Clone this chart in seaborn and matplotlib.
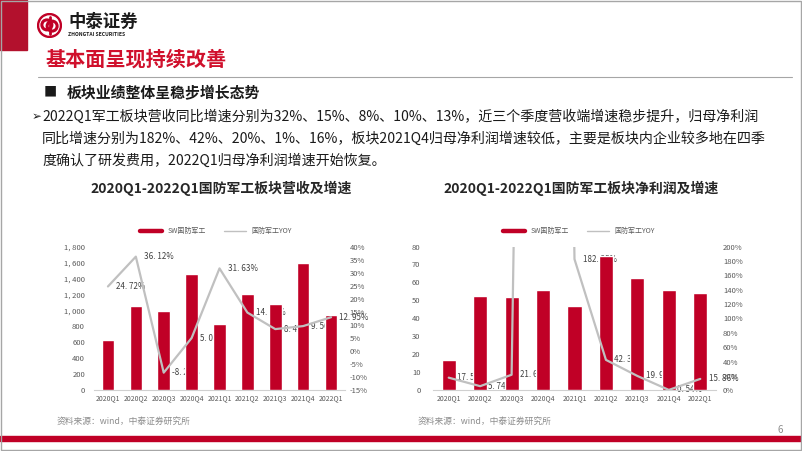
import matplotlib
matplotlib.use("Agg")
import matplotlib.pyplot as plt
import seaborn as sns
from matplotlib.lines import Line2D
from matplotlib.patches import Rectangle, Circle
from matplotlib.ticker import FuncFormatter, MultipleLocator

# 数据
quarters = ["2020Q1", "2020Q2", "2020Q3", "2020Q4", "2021Q1",
            "2021Q2", "2021Q3", "2021Q4", "2022Q1"]
revenue = [630, 1050, 995, 1458, 830, 1205, 1080, 1597, 938]
revenue_yoy = [24.72, 36.12, -8.25, 5.00, 31.63, 14.73, 8.41, 9.56, 12.95]
profit = [16.6, 52.6, 52.1, 55.6, 46.9, 74.8, 62.6, 56.0, 54.3]
profit_yoy = [17.58, 5.74, 21.63, 2800.0, 182.35, 42.31, 19.93, 0.54, 15.86]

legend_labels = ["SW国防军工", "国防军工YOY"]
title_rev = "2020Q1-2022Q1国防军工板块营收及增速"
title_np = "2020Q1-2022Q1国防军工板块净利润及增速"
para_lines = [
    "2022Q1军工板块营收同比增速分别为32%、15%、8%、10%、13%，近三个季度营收端增速稳步提升，归母净利润",
    "同比增速分别为182%、42%、20%、1%、16%，板块2021Q4归母净利润增速较低，主要是板块内企业较多地在四季",
    "度确认了研发费用，2022Q1归母净利润增速开始恢复。",
]

RED = "#c00026"
LINE_GRAY = "#c0c0c0"
TXT = "#595959"

sns.set_theme(style="white")
plt.rcParams['font.family'] = ['Noto Sans CJK SC', 'DejaVu Sans']
plt.rcParams['axes.unicode_minus'] = False

W, H = 802, 451
fig = plt.figure(figsize=(W / 100, H / 100), dpi=100)


def fx(x):
    return x / W


def fy(y):
    return 1 - y / H


def box(l, t, r, b):
    return [l / W, 1 - b / H, (r - l) / W, (b - t) / H]


# 页面装饰
fig.patches.append(Rectangle((0, fy(50)), fx(27), 50 / H, transform=fig.transFigure,
                             color="#b3112d", zorder=0))
fig.patches.append(Rectangle((0, fy(441)), 1, 5 / H, transform=fig.transFigure,
                             color=RED, zorder=0))
fig.patches.append(Rectangle((0.001, 0.002), 0.998, 0.996, transform=fig.transFigure,
                             fill=False, ec="#a6a6a6", lw=1))
fig.lines.append(Line2D([fx(38), fx(792)], [fy(77), fy(77)], transform=fig.transFigure,
                        color="#a6a6a6", lw=0.8))

# logo
lax = fig.add_axes(box(37, 13, 62, 38))
lax.set_xlim(-1.05, 1.05)
lax.set_ylim(-1.05, 1.05)
lax.set_aspect("equal")
lax.axis("off")
lax.add_patch(Circle((0, 0), 1.0, color=RED))
lax.add_patch(Circle((0, 0), 0.8, color="white"))
lax.add_patch(Circle((-0.22, 0.05), 0.42, fill=False, ec=RED, lw=2.2))
lax.add_patch(Circle((0.22, -0.05), 0.42, fill=False, ec=RED, lw=2.2))
lax.plot([0, 0], [-0.7, 0.7], color=RED, lw=2)

fig.text(fx(68), fy(22), "中泰证券", fontsize=12.5, fontweight="bold", color="#1a1a1a", va="center")
fig.text(fx(68), fy(34), "ZHONGTAI SECURITIES", fontsize=3.6, fontweight="bold", color="#1a1a1a", va="center")
fig.text(fx(46), fy(59), "基本面呈现持续改善", fontsize=14.5, fontweight="bold", color="#d0102c", va="center")

fig.text(fx(44), fy(93), "■", fontsize=9.5, color="#1a1a1a", va="center")
fig.text(fx(67), fy(93), "板块业绩整体呈稳步增长态势", fontsize=10.7, fontweight="bold", color="#1a1a1a", va="center")

fig.text(fx(32), fy(117), "➢", fontsize=8.5, color="#1a1a1a", va="center", family=["DejaVu Sans"])
for k, line in enumerate(para_lines):
    fig.text(fx(42), fy(117 + 21.8 * k), line, fontsize=10.1, color="#1a1a1a", va="center")

fig.text(fx(57), fy(421), "资料来源：wind，中泰证券研究所", fontsize=6.3, color="#8c8c8c", va="center")
fig.text(fx(418), fy(421), "资料来源：wind，中泰证券研究所", fontsize=6.3, color="#8c8c8c", va="center")
fig.text(fx(778), fy(430), "6", fontsize=7, color="#8c8c8c", va="center")


def combo(left, right, vals, yoy, ymax, ystep, y2lim, y2step, lpad, rpad, title, title_x, legend_x):
    ax = fig.add_axes(box(left, 246.5, right, 390.3))
    sns.barplot(x=quarters, y=vals, color=RED, saturation=1, width=0.45, ax=ax, zorder=3)
    ax.set_xlim(-0.5, len(quarters) - 0.5)
    ax.set_ylim(0, ymax)
    ax.yaxis.set_major_locator(MultipleLocator(ystep))
    ax.yaxis.set_major_formatter(FuncFormatter(lambda v, p: f"{v:,.0f}".replace(",", ", ")))
    ax.set_xlabel("")
    ax.set_ylabel("")
    ax.tick_params(axis="y", length=0, labelsize=5.5, colors=TXT, pad=lpad)
    ax.tick_params(axis="x", length=0, labelsize=5, colors=TXT, pad=3)
    sns.despine(ax=ax, left=True)
    ax.spines["bottom"].set_color("#d0d0d0")
    ax.spines["bottom"].set_linewidth(0.8)

    ax2 = ax.twinx()
    ax2.plot(range(len(quarters)), yoy, color=LINE_GRAY, lw=1.6, zorder=4)
    ax2.set_ylim(*y2lim)
    ax2.yaxis.set_major_locator(MultipleLocator(y2step))
    ax2.yaxis.set_major_formatter(FuncFormatter(lambda v, p: f"{v:.0f}%"))
    ax2.tick_params(axis="y", length=0, labelsize=5.5, colors=TXT, pad=rpad)
    for s in ax2.spines.values():
        s.set_visible(False)

    # 数据标签在柱子下层
    for i, v in enumerate(yoy):
        if v > y2lim[1]:
            continue
        ax.annotate(f"{v:.2f}%".replace(".", ". "), xy=(i, v), xycoords=ax2.transData,
                    xytext=(6, 0), textcoords="offset points", va="center", ha="left",
                    fontsize=5.8, color="#404040", zorder=2, annotation_clip=False)

    fig.text(fx(title_x), fy(188), title, fontsize=10, fontweight="bold",
             color="#262626", ha="center", va="center")
    handles = [Line2D([0], [0], color=RED, lw=3.2), Line2D([0], [0], color=LINE_GRAY, lw=1)]
    fig.legend(handles, legend_labels, loc="center", bbox_to_anchor=(fx(legend_x), fy(231)),
               ncol=2, frameon=False, fontsize=5, handlelength=3.2, columnspacing=2.5,
               labelcolor=TXT)
    return ax, ax2


combo(94, 345, revenue, revenue_yoy, 1800, 200, (-15, 40), 5, 6.5, 3.5,
      title_rev, 221, 216)
combo(433, 716, profit, profit_yoy, 80, 10, (0, 200), 20, 9, 5,
      title_np, 581, 579)

fig.savefig("out.png", dpi=100)
